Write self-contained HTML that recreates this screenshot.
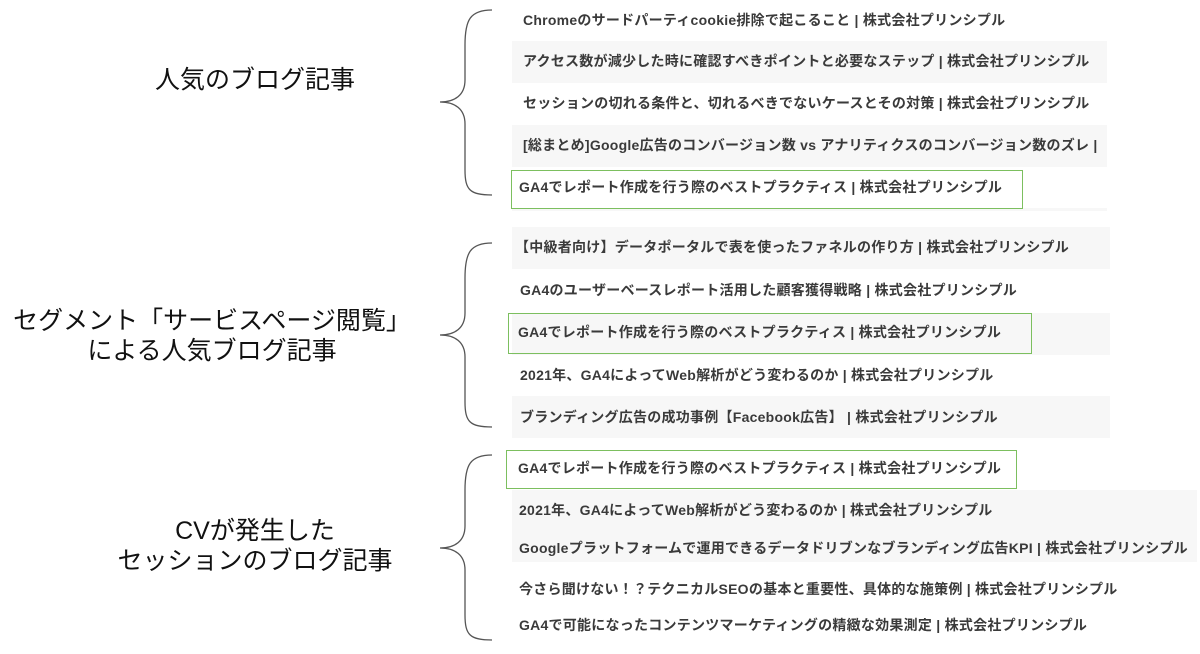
<!DOCTYPE html>
<html><head><meta charset="utf-8"><style>
body{margin:0;width:1200px;height:654px;background:#fff;position:relative;overflow:hidden;font-family:"Liberation Sans","Noto Sans CJK JP",sans-serif}
.l{position:absolute;font-size:25px;color:#111;text-align:center;line-height:30px;white-space:nowrap}
.g{position:absolute;background:#f7f7f7}
.b{position:absolute;border:1.5px solid #7cbf5f;box-sizing:border-box}
.t{position:absolute;font-size:14px;color:#3a3a3a;font-weight:bold;letter-spacing:0.25px;white-space:nowrap;line-height:20px;font-family:"Liberation Sans","Noto Sans CJK JP",sans-serif}
</style></head><body>
<div class="l" style="left:105px;width:300px;top:65px">人気のブログ記事</div>
<div class="l" style="left:0;width:424px;top:306px">セグメント「サービスページ閲覧」<br>による人気ブログ記事</div>
<div class="l" style="left:105px;width:300px;top:516px">CVが発生した<br>セッションのブログ記事</div>

<svg width="1200" height="654" style="position:absolute;left:0;top:0" fill="none" stroke="#555" stroke-width="1.3">
<path d="M492,10 C470,10 465,20 465,45 L465,80 C465,95 455,102 440,102 C455,102 465,109 465,124 L465,170 C465,190 470,195 492,195"/>
<path d="M492,243 C470,243 465,253 465,278 L465,313 C465,328 455,335 440,335 C455,335 465,342 465,357 L465,402 C465,422 470,427 492,427"/>
<path d="M492,455 C470,455 465,465 465,490 L465,526 C465,541 455,548 440,548 C455,548 465,555 465,570 L465,615 C465,635 470,640 492,640"/>
</svg>

<div class="g" style="left:512px;top:41px;width:595px;height:42px"></div>
<div class="g" style="left:512px;top:125px;width:595px;height:42px"></div>
<div class="g" style="left:512px;top:208px;width:595px;height:3px"></div>
<div class="b" style="left:511px;top:170px;width:512px;height:39px"></div>
<div class="t" style="left:523px;top:10px">Chromeのサードパーティcookie排除で起こること | 株式会社プリンシプル</div>
<div class="t" style="left:523px;top:51px">アクセス数が減少した時に確認すべきポイントと必要なステップ | 株式会社プリンシプル</div>
<div class="t" style="left:523px;top:93px">セッションの切れる条件と、切れるべきでないケースとその対策 | 株式会社プリンシプル</div>
<div class="t" style="left:523px;top:135px">[総まとめ]Google広告のコンバージョン数 vs アナリティクスのコンバージョン数のズレ |</div>
<div class="t" style="left:519px;top:177px">GA4でレポート作成を行う際のベストプラクティス | 株式会社プリンシプル</div>

<div class="g" style="left:512px;top:227px;width:598px;height:42px"></div>
<div class="g" style="left:512px;top:313px;width:598px;height:42px"></div>
<div class="g" style="left:512px;top:396px;width:598px;height:42px"></div>
<div class="b" style="left:508px;top:313px;width:524px;height:41px;border-color:#7cbf5f"></div>
<div class="t" style="left:515px;top:237px">【中級者向け】データポータルで表を使ったファネルの作り方 | 株式会社プリンシプル</div>
<div class="t" style="left:520px;top:280px">GA4のユーザーベースレポート活用した顧客獲得戦略 | 株式会社プリンシプル</div>
<div class="t" style="left:518px;top:322px">GA4でレポート作成を行う際のベストプラクティス | 株式会社プリンシプル</div>
<div class="t" style="left:520px;top:365px">2021年、GA4によってWeb解析がどう変わるのか | 株式会社プリンシプル</div>
<div class="t" style="left:520px;top:407px">ブランディング広告の成功事例【Facebook広告】 | 株式会社プリンシプル</div>

<div class="g" style="left:512px;top:490px;width:685px;height:72px"></div>
<div class="b" style="left:506px;top:450px;width:511px;height:39px"></div>
<div class="t" style="left:518px;top:458px">GA4でレポート作成を行う際のベストプラクティス | 株式会社プリンシプル</div>
<div class="t" style="left:519px;top:500px">2021年、GA4によってWeb解析がどう変わるのか | 株式会社プリンシプル</div>
<div class="t" style="left:519px;top:538px">Googleプラットフォームで運用できるデータドリブンなブランディング広告KPI | 株式会社プリンシプル</div>
<div class="t" style="left:519px;top:579px">今さら聞けない！？テクニカルSEOの基本と重要性、具体的な施策例 | 株式会社プリンシプル</div>
<div class="t" style="left:519px;top:615px">GA4で可能になったコンテンツマーケティングの精緻な効果測定 | 株式会社プリンシプル</div>
</body></html>
